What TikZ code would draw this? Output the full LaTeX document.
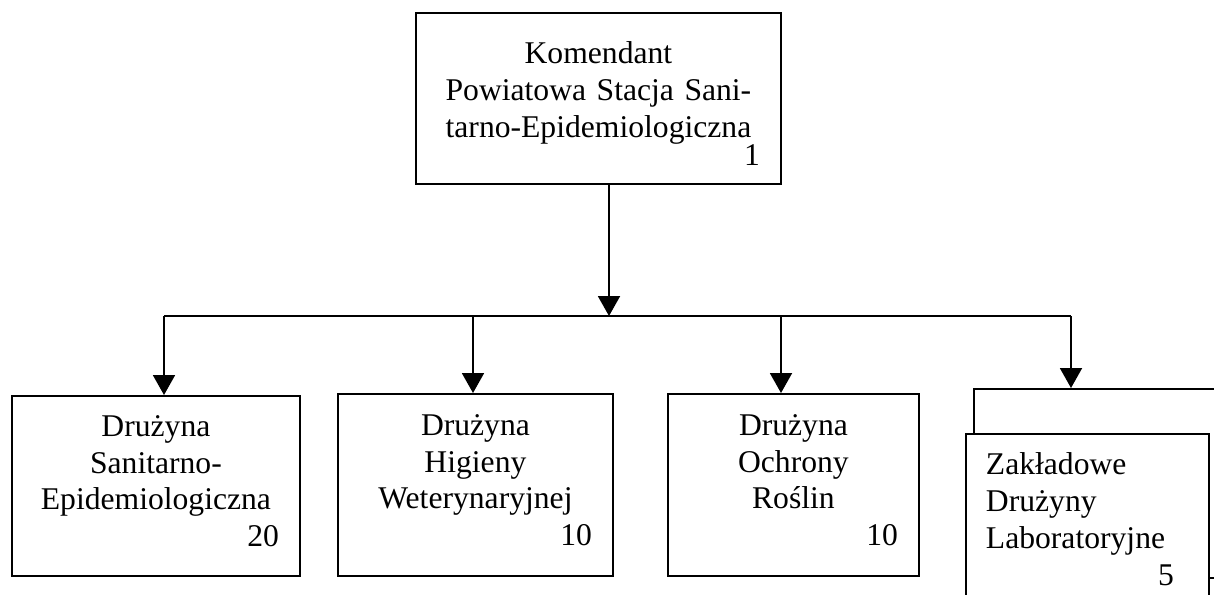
\documentclass[tikz,border=0pt]{standalone}
\usepackage{fontspec}
\setmainfont{Liberation Serif}
\usetikzlibrary{arrows.meta,positioning,calc}

% number in the lower right corner of a box
\newcommand{\liczba}[1]{\hskip 0pt plus 1filll #1\rule[-5.6pt]{0pt}{5.6pt}}

\begin{document}
\begin{tikzpicture}[x=0.02cm,y=-0.02cm,
    box/.style={draw, line width=1.1pt, fill=white, anchor=north west,
                inner xsep=0.42cm, align=center,
                font=\fontsize{18}{21}\selectfont},
    arr/.style={line width=1.1pt, -{Triangle[length=0.4cm,width=0.44cm]}}]
  % Define page
  \path[use as bounding box, clip] (0,0) rectangle (1214,595);

  % Draw boxes
  \node[box, minimum width=7.3cm, minimum height=3.42cm, text width=6.46cm] (kom) at (415,12)
       {\rule{0pt}{23.5pt}Komendant\\Powiatowa Stacja Sani-\\tarno-Epidemiologiczna\\[-5pt]\liczba{1}};

  \node[box, minimum width=5.76cm, minimum height=3.6cm, text width=4.92cm] (d1) at (11,395)
       {Drużyna\\Sanitarno-\\Epidemiologiczna\\\liczba{20}};
  \node[box, minimum width=5.5cm, minimum height=3.64cm, text width=4.66cm] (d2) at (337,393)
       {Drużyna\\Higieny\\Weterynaryjnej\\\liczba{10}};
  \node[box, minimum width=5.02cm, minimum height=3.64cm, text width=4.18cm] (d3) at (667,393)
       {Drużyna\\Ochrony\\Roślin\\\liczba{10}};

  % stacked boxes
  \node[box, minimum width=6cm, minimum height=3.78cm] (d4back) at (973,388) {};
  \node[box, align=left, inner xsep=0.4cm, inner ysep=0.38cm, text width=4.06cm] (d4) at (965,433)
       {Zakładowe\\Drużyny\\Laboratoryjne\\\liczba{5\hspace*{0.3cm}}};

  % Define points
  \coordinate (hub) at (609,316);
  \coordinate (b1) at (164,316);
  \coordinate (b2) at (473,316);
  \coordinate (b3) at (781,316);
  \coordinate (b4) at (1071,316);

  % Draw connectors
  \draw[arr] (kom.south -| hub) -- (hub);
  \draw[line width=1.1pt] (b1) -- (b4);
  \foreach \i/\n in {1/d1, 2/d2, 3/d3, 4/d4back}
      \draw[arr] (b\i) -- (b\i |- \n.north);
\end{tikzpicture}
\end{document}
